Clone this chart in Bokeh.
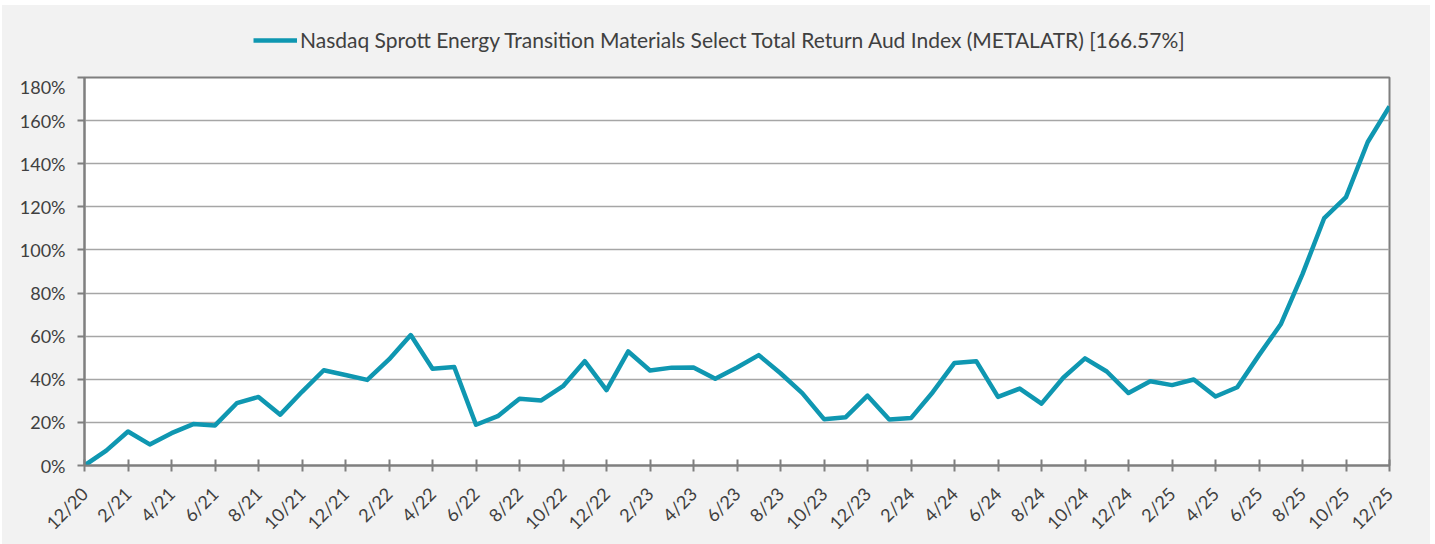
from bokeh.plotting import figure
from bokeh.layouts import column
from bokeh.models import (ColumnDataSource, FixedTicker, PrintfTickFormatter, Legend,
                          LegendItem, Range1d)
from bokeh.embed import file_html
from bokeh.resources import INLINE
import math

months = ["12/20", "1/21", "2/21", "3/21", "4/21", "5/21", "6/21", "7/21", "8/21", "9/21",
          "10/21", "11/21", "12/21", "1/22", "2/22", "3/22", "4/22", "5/22", "6/22", "7/22",
          "8/22", "9/22", "10/22", "11/22", "12/22", "1/23", "2/23", "3/23", "4/23", "5/23",
          "6/23", "7/23", "8/23", "9/23", "10/23", "11/23", "12/23", "1/24", "2/24", "3/24",
          "4/24", "5/24", "6/24", "7/24", "8/24", "9/24", "10/24", "11/24", "12/24", "1/25",
          "2/25", "3/25", "4/25", "5/25", "6/25", "7/25", "8/25", "9/25", "10/25", "11/25",
          "12/25"]

metalatr = [0.0, 6.9, 15.8, 9.8, 15.0, 19.2, 18.6, 28.9, 31.8, 23.6,
            34.2, 44.2, 42.0, 39.7, 49.2, 60.5, 44.9, 45.7, 18.9, 22.9,
            31.0, 30.2, 36.8, 48.4, 35.0, 52.9, 44.1, 45.4, 45.5, 40.2,
            45.5, 51.2, 42.8, 33.6, 21.5, 22.4, 32.4, 21.3, 22.0, 34.0,
            47.6, 48.4, 31.8, 35.7, 28.7, 40.7, 49.7, 43.6, 33.6, 39.1,
            37.3, 39.9, 32.0, 36.3, 51.2, 65.5, 88.8, 114.8, 124.5, 150.1,
            166.57]

series_name = "Nasdaq Sprott Energy Transition Materials Select Total Return Aud Index (METALATR) [166.57%]"
y_ticks = [0, 20, 40, 60, 80, 100, 120, 140, 160, 180]

idx = list(range(len(months)))
src = ColumnDataSource(data=dict(x=idx, y=metalatr, m=months))

FONT = "Lato"
GREY_TXT = "#404040"
LINE_COLOR = "#0f97b1"
BG = "#f2f2f2"

# ---- legend strip (top) ----
# same series drawn into ranges that show none of it: only its legend swatch is visible
leg = figure(width=1428, height=70, output_backend="svg", toolbar_location=None,
             x_range=Range1d(-10, -9), y_range=Range1d(-10, -9),
             min_border_left=0, min_border_right=0, min_border_top=0, min_border_bottom=0)
leg.axis.visible = False
leg.grid.visible = False
leg.outline_line_color = None
leg.background_fill_color = BG
leg.border_fill_color = BG
swatch = leg.line("x", "y", source=src, line_color=LINE_COLOR, line_width=4.5)
legend = Legend(items=[LegendItem(label=series_name, renderers=[swatch])],
                location=(169, 23), orientation="horizontal",
                label_text_font=FONT, label_text_font_size="21px", label_text_color=GREY_TXT,
                glyph_width=44, glyph_height=22, label_height=22, label_standoff=3,
                padding=0, margin=0, spacing=0,
                background_fill_alpha=0, border_line_alpha=0)
leg.add_layout(legend)

# ---- main chart ----
p = figure(width=1428, height=469, output_backend="svg", toolbar_location=None,
           x_range=Range1d(0, len(months) - 1), y_range=Range1d(0, 180),
           min_border_left=82, min_border_right=41, min_border_top=2, min_border_bottom=78)
p.background_fill_color = "white"
p.border_fill_color = BG
p.outline_line_color = "#7f7f7f"
p.outline_line_width = 2

p.line("x", "y", source=src, line_color=LINE_COLOR, line_width=4.5, line_join="round")

# x axis
xt = idx[::2]
p.xaxis.ticker = FixedTicker(ticks=xt)
p.xaxis.major_label_overrides = {i: months[i] for i in xt}
p.xaxis.major_label_orientation = math.pi / 4
p.xaxis.axis_line_color = "#7f7f7f"
p.xaxis.axis_line_width = 2
p.xaxis.major_tick_line_color = "#7f7f7f"
p.xaxis.major_tick_line_width = 2
p.xaxis.major_tick_in = 6
p.xaxis.major_tick_out = 6
p.xaxis.minor_tick_line_color = None
p.xaxis.major_label_text_font = FONT
p.xaxis.major_label_text_font_size = "18px"
p.xaxis.major_label_text_color = GREY_TXT
p.xaxis.major_label_standoff = 19

# y axis
p.yaxis.ticker = FixedTicker(ticks=y_ticks)
p.yaxis.formatter = PrintfTickFormatter(format="%d%%")
p.yaxis.axis_line_color = "#7f7f7f"
p.yaxis.axis_line_width = 2
p.yaxis.major_tick_line_color = "#7f7f7f"
p.yaxis.major_tick_line_width = 2
p.yaxis.major_tick_in = 0
p.yaxis.major_tick_out = 7
p.yaxis.minor_tick_line_color = None
p.yaxis.major_label_text_font = FONT
p.yaxis.major_label_text_font_size = "18px"
p.yaxis.major_label_text_color = GREY_TXT
p.yaxis.major_label_standoff = 12

p.xgrid.grid_line_color = None
p.ygrid.grid_line_color = "#a6a6a6"
p.ygrid.grid_line_width = 1.5

layout = column(leg, p, spacing=0,
                styles={"margin-top": "5px", "margin-left": "2px", "background-color": BG})
open("out.html", "w").write(file_html(layout, INLINE))
